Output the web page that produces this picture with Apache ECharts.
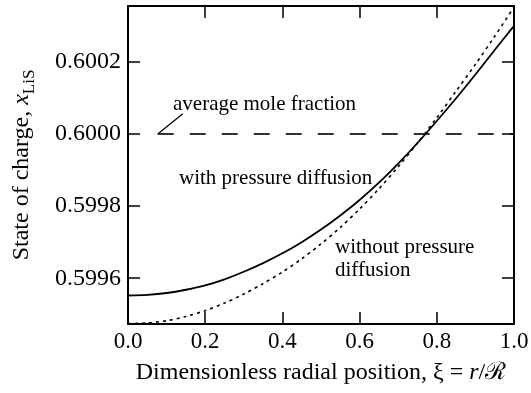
<!DOCTYPE html>
<html>
<head>
<meta charset="utf-8">
<script src="https://cdn.jsdelivr.net/npm/echarts@6/dist/echarts.min.js"></script>
<style>
html,body{margin:0;padding:0;background:#fff;}
#c{width:531px;height:393px;}
</style>
</head>
<body>
<div id="c"></div>
<script>
const xi = [0.00,0.05,0.10,0.15,0.20,0.25,0.30,0.35,0.40,0.45,0.50,0.55,0.60,0.65,0.70,0.75,0.80,0.85,0.90,0.95,1.00];
const withPressure = [0.599552,0.599554,0.599559,0.599568,0.599580,0.599597,0.599618,0.599642,0.599669,0.599700,0.599735,0.599774,0.599817,0.599865,0.599918,0.599975,0.600036,0.600099,0.600165,0.600233,0.600300];
const withoutPressure = [0.599474,0.599476,0.599482,0.599494,0.599510,0.599531,0.599556,0.599585,0.599617,0.599654,0.599695,0.599741,0.599792,0.599848,0.599909,0.599975,0.600045,0.600119,0.600193,0.600271,0.600352];
const avgX = [0.077, 1.0];
const avgY = [0.6000, 0.6000];
const pointerX = [0.077, 0.142];
const pointerY = [0.6000, 0.600056];
const xTickLabels = [0.0,0.2,0.4,0.6,0.8,1.0];
const yTickLabels = [0.5996,0.5998,0.6000,0.6002];

const FONT = '"Liberation Serif", "Times New Roman", serif';
const yMin = 0.599473, yMax = 0.600355;

const chart = echarts.init(document.getElementById('c'), null, {renderer:'canvas'});

const axisLineStyle = {color:'#000', width:2};
const tickStyle = {show:true, inside:true, length:12, lineStyle:{color:'#000', width:1.5}};

const pair = (xs, ys) => xs.map((x,i)=>[x, ys[i]]);

chart.setOption({
  backgroundColor:'#fff',
  animation:false,
  grid:{left:128, right:17, top:6, bottom:69, containLabel:false, outerBoundsMode:'none'},
  xAxis:[{
    type:'value', min:0, max:1, interval:0.2, position:'bottom',
    axisLine:{show:true, onZero:false, lineStyle:axisLineStyle},
    axisTick:tickStyle,
    splitLine:{show:false},
    axisLabel:{show:true, margin:6, color:'#000', fontFamily:FONT, fontSize:23,
      customValues:xTickLabels, formatter:v=>v.toFixed(1)},
    name:'Dimensionless radial position, ξ = {i|r}/ℛ',
    nameLocation:'middle', nameGap:37,
    nameTextStyle:{color:'#000', fontFamily:FONT, fontSize:24,
      rich:{i:{fontStyle:'italic', fontFamily:FONT, fontSize:24, color:'#000'}}}
  },{
    type:'value', min:0, max:1, interval:0.2, position:'top',
    axisLine:{show:true, onZero:false, lineStyle:axisLineStyle},
    axisTick:tickStyle, axisLabel:{show:false}, splitLine:{show:false}
  }],
  yAxis:[{
    type:'value', min:yMin, max:yMax, position:'left',
    axisLine:{show:true, onZero:false, lineStyle:axisLineStyle},
    axisTick:Object.assign({customValues:yTickLabels}, tickStyle),
    splitLine:{show:false},
    axisLabel:{show:true, margin:7, color:'#000', fontFamily:FONT, fontSize:24,
      customValues:yTickLabels, formatter:v=>v.toFixed(4)},
    name:'State of charge, {i|x}{sub|LiS}',
    nameLocation:'middle', nameGap:106, nameRotate:90,
    nameTextStyle:{color:'#000', fontFamily:FONT, fontSize:24, lineHeight:32, verticalAlign:'middle',
      rich:{
        i:{fontStyle:'italic', fontFamily:FONT, fontSize:24, lineHeight:32, verticalAlign:'middle', color:'#000'},
        sub:{fontFamily:FONT, fontSize:17, lineHeight:17, verticalAlign:'bottom', color:'#000'}
      }}
  },{
    type:'value', min:yMin, max:yMax, position:'right',
    axisLine:{show:true, onZero:false, lineStyle:axisLineStyle},
    axisTick:Object.assign({customValues:yTickLabels}, tickStyle),
    axisLabel:{show:false, customValues:yTickLabels}, splitLine:{show:false}
  }],
  series:[
    {name:'with pressure diffusion', type:'line', xAxisIndex:0, yAxisIndex:0,
     data:pair(xi, withPressure), smooth:0.3, showSymbol:false, symbol:'none',
     lineStyle:{color:'#000', width:1.8}},
    {name:'without pressure diffusion', type:'line', xAxisIndex:0, yAxisIndex:0,
     data:pair(xi, withoutPressure), smooth:0.3, showSymbol:false, symbol:'none',
     lineStyle:{color:'#000', width:1.6, type:[3,4]}},
    {name:'average mole fraction', type:'line', xAxisIndex:0, yAxisIndex:0,
     data:pair(avgX, avgY), showSymbol:false, symbol:'none',
     lineStyle:{color:'#000', width:1.6, type:[16,16]}},
    {name:'pointer', type:'line', xAxisIndex:0, yAxisIndex:0,
     data:pair(pointerX, pointerY), showSymbol:false, symbol:'none',
     lineStyle:{color:'#000', width:1.3}}
  ],
  graphic:[
    {type:'text', left:173, top:94, style:{text:'average mole fraction', font:'21px '+FONT, fill:'#000'}},
    {type:'text', left:179, top:168, style:{text:'with pressure diffusion', font:'21px '+FONT, fill:'#000'}},
    {type:'text', left:335, top:236, style:{text:'without pressure\ndiffusion', font:'21px '+FONT, fill:'#000', lineHeight:23}}
  ]
});
</script>
</body>
</html>
